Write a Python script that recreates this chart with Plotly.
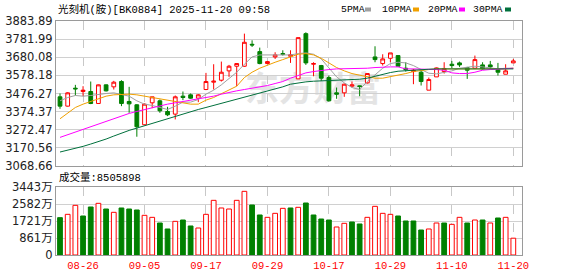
import plotly.graph_objects as go

# ---------------- data ----------------
dates = ["08-21", "08-22", "08-25", "08-26", "08-27", "08-28", "08-29",
         "09-01", "09-02", "09-03", "09-04", "09-05", "09-08", "09-09", "09-10", "09-11", "09-12",
         "09-15", "09-16", "09-17", "09-18", "09-19", "09-22", "09-23", "09-24", "09-25", "09-26",
         "09-29", "09-30",
         "10-09", "10-10", "10-13", "10-14", "10-15", "10-16", "10-17", "10-20", "10-21", "10-22",
         "10-23", "10-24", "10-27", "10-28", "10-29", "10-30", "10-31",
         "11-03", "11-04", "11-05", "11-06", "11-07", "11-10", "11-11", "11-12", "11-13", "11-14",
         "11-17", "11-18", "11-19", "11-20"]

opens = [3457.6, 3405.2, 3506.2, 3487.5, 3487.5, 3420.2, 3524.9, 3513.7, 3543.6, 3431.4,
         3412.7, 3300.5, 3423.9, 3435.1, 3375.3, 3360.4, 3461.3, 3468.8, 3450.1, 3498.7,
         3539.8, 3551.0, 3603.4, 3629.6, 3629.6, 3753.0, 3711.8, 3644.6, 3681.9, 3700.6,
         3685.7, 3558.5, 3812.8, 3640.8, 3633.3, 3566.0, 3480.0, 3480.0, 3517.4, 3519.3,
         3536.1, 3681.9, 3644.6, 3674.4, 3689.4, 3618.4, 3599.7, 3595.9, 3495.0, 3569.7,
         3599.7, 3640.8, 3648.3, 3622.1, 3618.4, 3637.1, 3637.1, 3610.9, 3584.7, 3648.3]
highs = [3476.3, 3483.7, 3524.9, 3517.4, 3543.6, 3526.8, 3526.8, 3547.3, 3551.0, 3513.7,
         3416.4, 3420.2, 3457.6, 3442.6, 3401.5, 3465.1, 3487.5, 3476.3, 3472.5, 3592.2,
         3640.8, 3655.7, 3637.1, 3646.4, 3812.8, 3775.4, 3734.3, 3659.5, 3708.1, 3719.3,
         3719.3, 3790.3, 3820.3, 3652.0, 3637.1, 3577.2, 3509.9, 3532.4, 3543.6, 3521.1,
         3588.4, 3741.8, 3696.9, 3704.4, 3691.0, 3652.0, 3614.7, 3610.9, 3566.0, 3622.1,
         3652.0, 3659.5, 3655.7, 3625.8, 3689.4, 3652.0, 3659.5, 3648.3, 3640.8, 3670.7]
lows = [3390.3, 3403.0, 3465.1, 3461.3, 3416.4, 3418.3, 3487.5, 3498.7, 3405.2, 3367.8,
        3233.2, 3298.6, 3394.0, 3367.8, 3349.1, 3330.5, 3438.9, 3446.4, 3427.7, 3495.0,
        3498.7, 3543.6, 3569.7, 3517.4, 3625.8, 3738.0, 3640.8, 3640.8, 3670.7, 3689.4,
        3648.3, 3558.5, 3637.1, 3573.1, 3547.3, 3431.4, 3446.4, 3457.6, 3509.9, 3461.3,
        3532.4, 3652.0, 3633.3, 3652.0, 3629.6, 3599.7, 3528.6, 3521.1, 3495.0, 3569.7,
        3588.4, 3618.4, 3625.8, 3558.5, 3614.7, 3610.9, 3614.7, 3577.2, 3584.7, 3648.3]
closes = [3405.2, 3480.0, 3502.4, 3495.0, 3420.2, 3524.9, 3491.2, 3539.8, 3420.2, 3418.0,
          3289.3, 3416.4, 3457.6, 3379.0, 3356.6, 3457.6, 3453.8, 3450.1, 3468.8, 3543.6,
          3545.4, 3595.9, 3629.6, 3644.6, 3764.2, 3749.2, 3644.6, 3655.7, 3693.2, 3696.9,
          3694.0, 3790.3, 3648.3, 3644.6, 3562.3, 3435.1, 3472.5, 3528.6, 3524.9, 3515.5,
          3588.4, 3667.0, 3670.7, 3704.4, 3629.6, 3610.9, 3607.2, 3543.6, 3554.8, 3620.0,
          3617.0, 3633.3, 3637.1, 3607.2, 3667.0, 3614.7, 3625.8, 3595.9, 3603.4, 3659.5]

volumes = [18900000, 20590000, 25150000, 19750000, 24310000, 26160000, 23290000, 21610000,
           23800000, 23290000, 22790000, 20090000, 19070000, 16200000, 13170000, 17050000,
           17720000, 14690000, 13670000, 20590000, 27680000, 23800000, 23290000, 27680000,
           32240000, 25320000, 20260000, 19070000, 21100000, 23630000, 23800000, 24140000,
           26330000, 20260000, 18230000, 17720000, 14180000, 16040000, 16710000, 15700000,
           19070000, 24640000, 21100000, 20590000, 19750000, 17220000, 17220000, 12660000,
           13170000, 16200000, 16200000, 15530000, 19070000, 16200000, 17720000, 17720000,
           16200000, 18740000, 19070000, 8505898]

ma5 = [3435.1, 3453.8, 3465.1, 3461.3, 3465.1, 3472.5, 3476.3, 3480.0, 3472.5, 3461.3,
       3435.1, 3416.4, 3409.0, 3397.7, 3386.5, 3405.2, 3427.7, 3427.7, 3442.6, 3472.5,
       3495.0, 3524.9, 3558.5, 3595.9, 3640.8, 3681.9, 3693.1, 3693.1, 3696.9, 3696.9,
       3693.1, 3700.6, 3704.4, 3696.9, 3670.7, 3620.2, 3569.7, 3536.1, 3509.9, 3498.7,
       3543.6, 3580.9, 3618.4, 3644.5, 3652.0, 3648.3, 3633.3, 3610.9, 3590.3, 3586.6,
       3595.9, 3603.4, 3618.4, 3625.8, 3629.6, 3625.8, 3618.4, 3614.6, 3618.4, 3618.4]
ma10 = [3334.2, 3364.1, 3397.7, 3416.4, 3431.4, 3446.4, 3461.3, 3468.8, 3472.5, 3472.5,
        3468.8, 3461.3, 3453.8, 3446.4, 3438.9, 3431.4, 3420.2, 3416.4, 3416.4, 3438.9,
        3453.8, 3476.3, 3495.0, 3517.4, 3566.0, 3595.9, 3618.4, 3637.1, 3652.0, 3667.0,
        3681.9, 3696.9, 3700.6, 3693.1, 3674.4, 3648.3, 3622.1, 3603.4, 3588.4, 3579.1,
        3569.7, 3562.3, 3562.3, 3569.7, 3577.2, 3588.4, 3599.7, 3607.1, 3610.9, 3614.6,
        3614.6, 3614.6, 3610.9, 3610.9, 3610.9, 3610.9, 3610.9, 3610.9, 3614.6, 3618.4]
ma20 = [3229.5, 3244.4, 3259.4, 3274.4, 3289.3, 3304.3, 3323.0, 3337.9, 3352.9, 3364.1,
        3375.3, 3386.5, 3397.7, 3409.0, 3416.4, 3423.9, 3431.4, 3438.9, 3442.6, 3450.1,
        3461.3, 3472.5, 3483.7, 3491.2, 3498.7, 3506.2, 3509.9, 3521.1, 3532.4, 3543.6,
        3562.3, 3577.2, 3592.2, 3599.7, 3607.1, 3610.9, 3614.6, 3614.6, 3618.4, 3618.4,
        3618.4, 3622.1, 3625.8, 3625.8, 3625.8, 3614.6, 3614.6, 3614.6, 3614.6, 3610.9,
        3607.1, 3592.2, 3588.4, 3588.4, 3595.9, 3607.1, 3610.9, 3614.6, 3618.4, 3618.4]
ma30 = [3147.2, 3156.6, 3167.8, 3179.0, 3192.1, 3205.2, 3220.1, 3237.0, 3253.8, 3268.8,
        3281.8, 3294.9, 3308.0, 3321.1, 3336.0, 3351.0, 3364.1, 3375.3, 3386.5, 3397.7,
        3409.0, 3420.2, 3431.4, 3442.6, 3455.7, 3468.8, 3480.0, 3489.4, 3500.6, 3513.7,
        3528.6, 3536.1, 3541.7, 3545.4, 3547.3, 3547.3, 3549.2, 3551.0, 3552.9, 3556.7,
        3562.3, 3573.5, 3584.7, 3594.1, 3601.5, 3605.3, 3609.0, 3610.9, 3612.7, 3614.6,
        3614.6, 3616.5, 3616.5, 3616.5, 3616.5, 3616.5, 3614.6, 3614.6, 3614.6, 3614.6]

tick_dates = ["08-26", "09-05", "09-17", "09-29", "10-17", "10-29", "11-10", "11-20"]
price_ticks = [3068.66, 3170.56, 3272.47, 3374.37, 3476.27, 3578.18, 3680.08, 3781.99, 3883.89]
price_tick_text = ["3068.66", "3170.56", "3272.47", "3374.37", "3476.27",
                   "3578.18", "3680.08", "3781.99", "3883.89"]
vol_ticks = [0, 8607500, 17215000, 25822500, 34430000]
vol_tick_text = ["0", "861万", "1721万", "2582万", "3443万"]

title_text = "光刻机(胺)[BK0884] 2025-11-20 09:58"
vol_label = "成交量:8505898"
ma_names = ["5PMA", "10PMA", "20PMA", "30PMA"]

# ---------------- styles ----------------
RED = "#ff0000"
GREEN = "#008000"
MA_COLORS = ["#a0a0a0", "#f0a000", "#ff00ff", "#00703c"]
GRID = "#d0d0d0"
FRAME = "#9a9a9a"
MONO = "Liberation Mono, Noto Sans CJK SC, monospace"

W, H = 578, 276
L, R, T, B = 56, 56, 21, 21
PW, PH = W - L - R, H - T - B


def px(x):
    return (x - L) / PW


def py(y):
    return (H - B - y) / PH


xr = [-0.52, len(dates) - 1 + 1.13]

fig = go.Figure()

fig.add_trace(go.Candlestick(
    x=dates, open=opens, high=highs, low=lows, close=closes,
    increasing=dict(line=dict(color=RED, width=1), fillcolor="#ffffff"),
    decreasing=dict(line=dict(color=GREEN, width=1), fillcolor=GREEN),
    whiskerwidth=0, xaxis="x", yaxis="y", hoverinfo="skip",
))

for vals, col in zip([ma5, ma10, ma20, ma30], MA_COLORS):
    fig.add_trace(go.Scatter(x=dates, y=vals, mode="lines",
                             line=dict(color=col, width=1),
                             xaxis="x", yaxis="y", hoverinfo="skip"))

# volume colour: compared with previous close
vol_up = []
for i in range(len(closes)):
    ref = closes[i - 1] if i > 0 else opens[i]
    vol_up.append(closes[i] >= ref)

fig.add_trace(go.Bar(
    x=dates, y=volumes, width=0.62,
    marker=dict(color=["#ffffff" if u else GREEN for u in vol_up],
                line=dict(color=[RED if u else GREEN for u in vol_up], width=1)),
    xaxis="x2", yaxis="y2", hoverinfo="skip",
))

axis_common = dict(showline=True, mirror=True, linecolor=FRAME, linewidth=1,
                   zeroline=False, ticks="")

fig.update_layout(
    width=W, height=H,
    margin=dict(l=L, r=R, t=T, b=B, autoexpand=False),
    paper_bgcolor="#ffffff", plot_bgcolor="#ffffff",
    showlegend=False,
    boxgap=0.3,
    xaxis=dict(domain=[0, 1], anchor="y", type="category", range=xr,
               tickmode="array", tickvals=tick_dates, showticklabels=False,
               showgrid=True, gridcolor="#c8c8c8", griddash="dash", gridwidth=1,
               rangeslider=dict(visible=False), **axis_common),
    yaxis=dict(domain=[py(166), 1], anchor="x", range=[price_ticks[0], price_ticks[-1]],
               tickmode="array", tickvals=price_ticks, ticktext=price_tick_text,
               showgrid=True, gridcolor=GRID, gridwidth=1,
               tickfont=dict(family="DejaVu Sans", size=11.5, color="#222222"),
               **axis_common),
    xaxis2=dict(domain=[0, 1], anchor="y2", type="category", range=xr,
                tickmode="array", tickvals=tick_dates, ticktext=tick_dates,
                showgrid=True, gridcolor="#c8c8c8", griddash="dash", gridwidth=1,
                tickfont=dict(family=MONO, size=10.5, color=RED),
                **axis_common),
    yaxis2=dict(domain=[0, py(187)], anchor="x2", range=[0, vol_ticks[-1]],
                tickmode="array", tickvals=vol_ticks, ticktext=vol_tick_text,
                showgrid=True, gridcolor=GRID, gridwidth=1,
                tickfont=dict(family="DejaVu Sans, Noto Sans CJK SC", size=11.5, color="#222222"),
                **axis_common),
)

annotations = [
    dict(text=title_text, x=px(56), y=py(10), xref="paper", yref="paper",
         xanchor="left", yanchor="middle", showarrow=False,
         font=dict(family=MONO, size=10.5, color="#000000")),
    dict(text=vol_label, x=px(57), y=py(177.5), xref="paper", yref="paper",
         xanchor="left", yanchor="middle", showarrow=False,
         font=dict(family=MONO, size=10.5, color="#000000")),
]
legend_x = [339, 380, 426, 471]
square_x = [365, 413, 459, 505]
shapes = []
for name, lx, sx, col in zip(ma_names, legend_x, square_x, MA_COLORS):
    annotations.append(dict(text=name, x=px(lx), y=py(9.5), xref="paper", yref="paper",
                            xanchor="left", yanchor="middle", showarrow=False,
                            font=dict(family=MONO, size=9.8, color="#000000")))
    shapes.append(dict(type="rect", xref="paper", yref="paper",
                       x0=px(sx), x1=px(sx + 6), y0=py(11.5), y1=py(7.5),
                       fillcolor=col, line=dict(width=0)))

# watermark
shapes.append(dict(type="rect", xref="paper", yref="paper", layer="between",
                   x0=px(238), x1=px(388), y0=py(112), y1=py(70),
                   fillcolor="rgba(0,0,0,0)", line=dict(width=0),
                   label=dict(text="东方财富", textposition="middle center",
                              font=dict(family="Noto Sans CJK SC", size=34,
                                        color="#e4e4e4", weight="bold"))))

fig.update_layout(annotations=annotations, shapes=shapes)

fig.write_html("out.html")
